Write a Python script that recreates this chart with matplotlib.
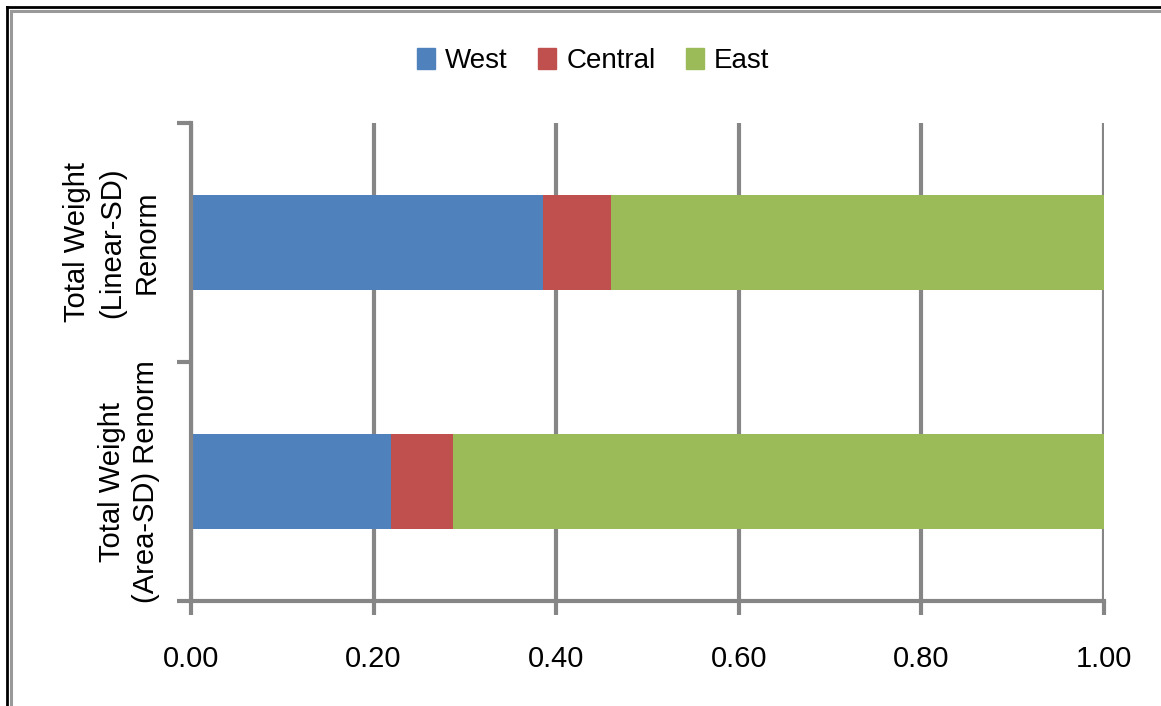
import matplotlib.pyplot as plt
from matplotlib.lines import Line2D
from matplotlib.patches import Patch

plt.rcParams['font.family'] = ['Liberation Sans', 'DejaVu Sans']

categories = ["Total Weight\n(Area-SD) Renorm", "Total Weight\n(Linear-SD)\nRenorm"]
west = [0.219, 0.385]
central = [0.068, 0.075]
east = [0.713, 0.540]
series_names = ["West", "Central", "East"]
colors = ["#4F81BD", "#C0504D", "#9BBB59"]
xticks = [0.0, 0.2, 0.4, 0.6, 0.8, 1.0]

grey = "#868686"

fig = plt.figure(figsize=(11.61, 7.06), dpi=100)
ax = fig.add_axes([191 / 1161, 1 - 601 / 706, 913 / 1161, 478 / 706])

ypos = list(range(len(categories)))
left = [0.0] * len(categories)
for vals, name, col in zip([west, central, east], series_names, colors):
    ax.barh(ypos, vals, left=left, height=0.4, color=col, label=name, zorder=3)
    left = [l + v for l, v in zip(left, vals)]

ax.set_xlim(0, 1.0)
ax.set_ylim(-0.5, 1.5)
ax.set_xticks(xticks)
ax.set_xticklabels([f"{t:.2f}" for t in xticks], fontsize=21)
ax.set_yticks([-0.5, 0.5, 1.5])
ax.set_yticklabels([])
ax.set_yticks(ypos, minor=True)
ax.set_yticklabels(categories, minor=True, rotation=90, va="center", ha="right",
                   multialignment="center", fontsize=21, linespacing=1.3)
ax.tick_params(axis="y", which="minor", length=0, pad=22)
ax.tick_params(axis="y", which="major", length=10, width=3, color=grey)
ax.tick_params(axis="x", length=10, width=3, color=grey, pad=22)

ax.grid(axis="x", color=grey, linewidth=3, zorder=0)
for s in ["top", "right"]:
    ax.spines[s].set_visible(False)
for s in ["left", "bottom"]:
    ax.spines[s].set_color(grey)
    ax.spines[s].set_linewidth(3)
    ax.spines[s].set_zorder(4)

handles = [Patch(color=c, label=n) for c, n in zip(colors, series_names)]
fig.legend(handles=handles, loc="center", bbox_to_anchor=(0.511, 1 - 61 / 706), ncol=3,
           frameon=False, fontsize=20, handlelength=0.65, handleheight=0.8,
           handletextpad=0.35, columnspacing=1.1)

# chart frame (outer black, inner grey)
fig.add_artist(Line2D([7 / 1161, 7 / 1161], [0, 1 - 7 / 706], color="black", linewidth=2, transform=fig.transFigure))
fig.add_artist(Line2D([7 / 1161, 1], [1 - 7 / 706, 1 - 7 / 706], color="black", linewidth=2, transform=fig.transFigure))
fig.add_artist(Line2D([11 / 1161, 11 / 1161], [0, 1 - 11 / 706], color="#999999", linewidth=2.2, transform=fig.transFigure))
fig.add_artist(Line2D([11 / 1161, 1], [1 - 11 / 706, 1 - 11 / 706], color="#999999", linewidth=2.2, transform=fig.transFigure))

fig.savefig("out.png", dpi=100)
